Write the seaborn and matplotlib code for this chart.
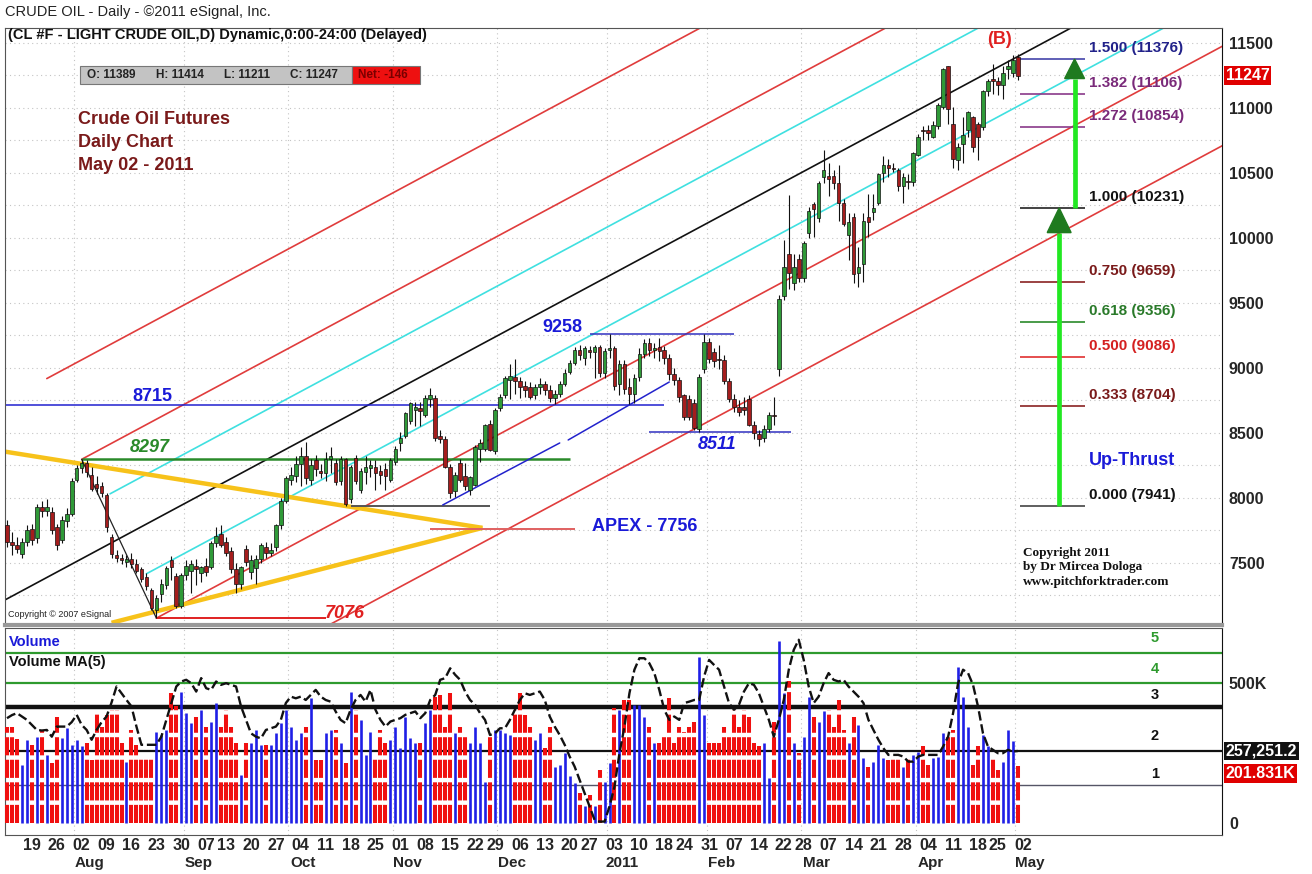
import numpy as np
import pandas as pd
import seaborn as sns
import matplotlib.pyplot as plt
import matplotlib.transforms as mtransforms
from matplotlib.patches import Rectangle

# ---- daily OHLC (CL #F, price x100) : Jul 13 2010 .. May 02 2011 ----
opens = [7790, 7660, 7640, 7570, 7660, 7760, 7690, 7930, 7900, 7890, 7780, 7680, 7820, 7880,
         8140, 8230, 8270, 8180, 8110, 8090, 8020, 7700, 7560, 7540, 7510, 7530, 7490, 7450, 7390, 7290, 7140, 7260, 7330, 7520, 7400, 7170,
         7410, 7440, 7480, 7420, 7480, 7470, 7650, 7720, 7660, 7590, 7450, 7340, 7610, 7430, 7460, 7530, 7620, 7580, 7620, 7790, 7980,
         8140, 8170, 8260, 8320, 8140, 8290, 8210, 8190, 8300, 8270, 8130, 8300, 7990, 8310, 8060, 8200, 8230, 8240, 8210, 8220, 8140,
         8280, 8420, 8480, 8590, 8680, 8690, 8640, 8760, 8770, 8480, 8450, 8240, 8050, 8270, 8170, 8060, 8100, 8380, 8380, 8570, 8360,
         8690, 8790, 8910, 8930, 8900, 8860, 8850, 8790, 8850, 8880, 8830, 8770, 8800, 8880, 8970, 9040, 9140, 9080, 9140, 9120, 9160, 8960,
         9140, 9150, 8880, 9030, 8850, 8800, 8930, 9110, 9190, 9140, 9160, 9140, 9080, 8950, 8910, 8790, 8760, 8730, 8530, 8990,
         9200, 9120, 9070, 9060, 8900, 8760, 8700, 8700, 8760, 8560, 8490, 8460, 8530, 8640, 8990, 9550, 9880, 9650, 9840,
         9690, 10040, 10260, 10150, 10470, 10480, 10480, 10420, 10270, 10020, 10160, 9730, 9800, 10160, 10200, 10270, 10500, 10560, 10540, 10520, 10400, 10440, 10430,
         10640, 10830, 10830, 10780, 10860, 11010, 11320, 10880, 10600, 10720, 10830, 10930, 10880, 10850, 11130, 11220, 11210, 11180, 11300, 11270,
         11389]
highs = [7830, 7740, 7700, 7690, 7790, 7800, 7950, 7980, 7990, 7930, 7800, 7860, 7920, 8150,
         8250, 8297, 8290, 8240, 8170, 8120, 8040, 7720, 7600, 7570, 7560, 7580, 7530, 7470, 7420, 7310, 7250, 7380, 7480, 7550, 7420, 7420,
         7520, 7520, 7530, 7480, 7540, 7670, 7780, 7790, 7700, 7620, 7500, 7480, 7640, 7560, 7560, 7650, 7660, 7650, 7800, 8000, 8170,
         8240, 8320, 8395, 8434, 8300, 8330, 8260, 8350, 8395, 8300, 8320, 8310, 8250, 8330, 8230, 8320, 8290, 8290, 8250, 8270, 8310,
         8400, 8510, 8660, 8740, 8740, 8740, 8790, 8844, 8790, 8520, 8480, 8260, 8200, 8300, 8270, 8170, 8410, 8450, 8570, 8600, 8690,
         8800, 8940, 9030, 9070, 8930, 8900, 8890, 8880, 8920, 8900, 8870, 8830, 8900, 8990, 9060, 9160, 9180, 9170, 9170, 9180, 9180, 9150,
         9258, 9170, 9060, 9060, 8920, 8950, 9150, 9220, 9230, 9190, 9230, 9170, 9110, 9000, 8930, 8800, 8790, 8760, 8950, 9258,
         9230, 9150, 9180, 9100, 8920, 8800, 8750, 8780, 8790, 8590, 8520, 8560, 8660, 8780, 9560, 9985, 10331, 9880, 9880,
         9980, 10240, 10280, 10440, 10677, 10580, 10520, 10560, 10300, 10190, 10190, 9930, 10190, 10340, 10340, 10500, 10630, 10610, 10580, 10540, 10500, 10490, 10660,
         10800, 10860, 10870, 10900, 11040, 11310, 11323, 11010, 10730, 10930, 10980, 10940, 10890, 11140, 11220, 11340, 11240, 11320, 11370, 11410,
         11414]
lows = [7620, 7560, 7580, 7540, 7630, 7640, 7650, 7850, 7860, 7720, 7600, 7650, 7780, 7860,
        8120, 8190, 8160, 8050, 8030, 8010, 7740, 7540, 7510, 7490, 7470, 7460, 7420, 7350, 7290, 7140, 7076, 7200, 7300, 7370, 7150, 7150,
        7370, 7270, 7330, 7350, 7400, 7450, 7620, 7620, 7550, 7420, 7270, 7300, 7480, 7380, 7340, 7500, 7540, 7550, 7590, 7760, 7960,
        8100, 8120, 8090, 8110, 8100, 8170, 8150, 8130, 8190, 8100, 8100, 7941, 7960, 8110, 8040, 8110, 8160, 8060, 8110, 8060, 8120,
        8250, 8360, 8460, 8570, 8550, 8550, 8620, 8700, 8440, 8420, 8230, 7998, 8010, 8120, 8060, 8024, 8090, 8280, 8360, 8360, 8340,
        8670, 8770, 8760, 8800, 8770, 8780, 8760, 8760, 8800, 8790, 8740, 8720, 8780, 8860, 8950, 9020, 9060, 9020, 9080, 8920, 8930, 8920,
        9080, 8830, 8790, 8800, 8720, 8730, 8900, 9080, 9090, 9080, 9050, 9030, 8910, 8870, 8740, 8600, 8600, 8520, 8511, 8960,
        9040, 9010, 8990, 8880, 8740, 8660, 8630, 8640, 8550, 8450, 8400, 8430, 8510, 8560, 8940, 9520, 9610, 9600, 9660,
        9660, 10000, 10010, 10120, 10420, 10320, 10380, 10130, 10090, 9830, 9650, 9620, 9660, 10010, 10140, 10250, 10430, 10470, 10510, 10360, 10270, 10380, 10400,
        10630, 10750, 10750, 10770, 10840, 10990, 10880, 10536, 10520, 10580, 10780, 10660, 10600, 10830, 11090, 11110, 11100, 11070, 11220, 11240,
        11211]
closes = [7660, 7640, 7610, 7660, 7750, 7680, 7930, 7900, 7930, 7750, 7640, 7830, 7880, 8130,
          8230, 8270, 8200, 8070, 8080, 8040, 7780, 7570, 7540, 7520, 7530, 7490, 7440, 7380, 7320, 7150, 7230, 7340, 7460, 7470, 7170, 7410,
          7480, 7490, 7450, 7470, 7430, 7650, 7710, 7640, 7580, 7450, 7340, 7470, 7510, 7520, 7530, 7640, 7580, 7600, 7790, 7980, 8150,
          8180, 8260, 8320, 8150, 8250, 8220, 8190, 8300, 8320, 8120, 8300, 7950, 8240, 8130, 8210, 8240, 8250, 8190, 8180, 8170, 8290,
          8380, 8460, 8650, 8730, 8700, 8670, 8770, 8790, 8460, 8450, 8240, 8040, 8180, 8140, 8090, 8160, 8390, 8420, 8560, 8370, 8680,
          8780, 8920, 8940, 8900, 8850, 8830, 8780, 8850, 8880, 8830, 8770, 8800, 8880, 8960, 9040, 9140, 9100, 9150, 9120, 9160, 8960, 9130,
          9150, 8860, 9030, 8840, 8800, 8920, 9110, 9190, 9140, 9150, 9130, 9080, 8950, 8910, 8780, 8620, 8620, 8540, 8930, 9200,
          9070, 9050, 9060, 8900, 8760, 8700, 8660, 8680, 8560, 8500, 8450, 8530, 8640, 8630, 9530, 9780, 9730, 9780, 9690,
          9960, 10210, 10220, 10420, 10520, 10450, 10420, 10270, 10110, 10120, 9720, 9780, 10130, 10120, 10230, 10490, 10560, 10540, 10530, 10400, 10470, 10430, 10650,
          10780, 10820, 10810, 10870, 11020, 11300, 10990, 10610, 10700, 10790, 10970, 10700, 10780, 11130, 11210, 11210, 11180, 11270, 11320, 11370,
          11247]

# ---- volume (thousands) and Volume MA(5) as drawn ----
volume = [344, 344, 300, 207, 297, 279, 308, 332, 243, 213, 380, 302, 338, 279,
          297, 273, 285, 225, 392, 344, 386, 404, 404, 285, 219, 332, 279, 231, 231, 231, 326, 314, 332, 463, 416, 469,
          392, 356, 380, 404, 344, 362, 428, 344, 404, 344, 285, 172, 285, 285, 332, 279, 279, 279, 320, 356, 404,
          344, 297, 320, 344, 445, 225, 225, 320, 332, 332, 285, 213, 469, 404, 368, 243, 326, 231, 332, 285, 297,
          344, 267, 380, 302, 285, 285, 356, 404, 451, 457, 344, 463, 320, 344, 320, 285, 344, 285, 148, 314, 332,
          332, 320, 314, 404, 463, 386, 344, 297, 320, 267, 344, 201, 207, 249, 166, 142, 106, 59, 100, 59, 190, 148,
          213, 410, 404, 439, 439, 422, 422, 380, 344, 285, 285, 320, 445, 285, 344, 326, 344, 362, 594, 386,
          285, 285, 285, 344, 314, 404, 344, 404, 380, 285, 273, 285, 160, 362, 648, 463, 505, 285, 249,
          308, 451, 380, 362, 398, 404, 344, 439, 332, 285, 380, 350, 231, 201, 219, 279, 231, 225, 231, 231, 201, 231, 243,
          255, 273, 207, 231, 237, 320, 314, 332, 558, 451, 344, 207, 273, 314, 273, 231, 190, 219, 332, 291,
          202]
volume_ma = [374, 385, 392, 380, 368, 350, 332, 330, 332, 308, 344, 344, 344, 360,
             386, 350, 332, 297, 332, 360, 380, 430, 487, 463, 439, 416, 344, 279, 279, 279, 279, 308, 368, 428, 487, 505,
             511, 499, 469, 517, 481, 475, 505, 493, 499, 493, 487, 416, 368, 320, 308, 302, 332, 338, 344, 368, 428,
             451, 445, 451, 439, 457, 475, 451, 439, 433, 398, 368, 356, 404, 439, 457, 433, 475, 404, 368, 344, 362,
             368, 374, 386, 392, 398, 374, 392, 439, 457, 511, 517, 552, 529, 511, 469, 439, 422, 392, 368, 314, 320,
             338, 338, 368, 404, 439, 463, 457, 463, 469, 439, 380, 344, 314, 279, 237, 201, 154, 106, 59, 11, 5, 5,
             59, 130, 249, 344, 463, 547, 588, 588, 570, 535, 475, 404, 368, 380, 368, 428, 433, 439, 439, 523,
             582, 564, 547, 487, 428, 404, 422, 469, 499, 493, 463, 416, 368, 308, 368, 439, 547, 618, 654,
             582, 487, 428, 451, 499, 535, 511, 505, 511, 487, 469, 451, 428, 368, 332, 297, 267, 243, 243, 243, 237, 219, 219,
             237, 243, 243, 243, 243, 273, 308, 392, 499, 547, 535, 493, 416, 320, 273, 261, 249, 249, 261, 255,
             257]

# ---- analysis levels ----
fib_ratios = ['1.500', '1.382', '1.272', '1.000', '0.750', '0.618', '0.500', '0.333', '0.000']
fib_prices = [11376, 11106, 10854, 10231, 9659, 9356, 9086, 8704, 7941]
fib_colors = ['#22228a', '#7a2a7a', '#7a2a7a', '#111111', '#7a1a1a', '#2a7a2a', '#d42020', '#7a1a1a', '#111111']
fib_lines = ['#4444aa', '#8a3a8a', '#8a3a8a', '#222222', '#8a2222', '#2a8a2a', '#e03030', '#8a2222', '#444444']
vol_levels = [607, 500, 414, 257, 136]
vol_level_names = ['5', '4', '3', '2', '1']

holidays = pd.to_datetime(['2010-09-06', '2010-11-25', '2010-12-24',
                           '2011-01-17', '2011-02-21', '2011-04-22'])
dates = pd.bdate_range('2010-07-13', '2011-05-02').drop(holidays)

o, h, l, c = map(np.array, (opens, highs, lows, closes))
n = len(c)
x = np.arange(n)

sns.set_style('white')
plt.rcParams['font.family'] = ['Liberation Sans', 'DejaVu Sans']

fig = plt.figure(figsize=(13.12, 8.74), dpi=100)
ax = fig.add_axes([0.0038, 0.2849, 0.9276, 0.6831])
ax2 = fig.add_axes([0.0038, 0.0446, 0.9276, 0.2369])
XMAX = 244
for a in (ax, ax2):
    a.set_xlim(-0.4, XMAX)

# grid
for p in range(7250, 11750, 250):
    ax.axhline(p, color='#c4c4c4', lw=0.8, ls=(0, (1, 3)), zorder=0)
ds = pd.Series(dates)
month_first = ds.groupby([ds.dt.year, ds.dt.month]).head(1).index.to_numpy()
for m in month_first[1:]:
    for a in (ax, ax2):
        a.axvline(m - 0.5, color='#c4c4c4', lw=0.8, ls=(0, (1, 3)), zorder=0)

# pitchfork (median through midpoint of 8297 / 7076 pivots)
slope, base, half = 20.55, 7224, 765
forks = [(2, '#e03c3c', 8), (1, '#e03c3c', 15), (0.5, '#3fe0e0', 20.7), (0, '#111111', -1),
         (-0.5, '#3fe0e0', 28), (-1, '#e03c3c', 30), (-2, '#e03c3c', 60)]
for k, col, x0 in forks:
    xs = np.array([x0, 260])
    ax.plot(xs, base + slope * xs + k * half, color=col, lw=1.2, zorder=2)

# triangle / apex, swing lines and levels
ax.plot([-1, 95.5], [8360, 7770], color='#f7c21a', lw=3.2, zorder=2, solid_capstyle='butt')
ax.plot([21, 95.5], [7040, 7770], color='#f7c21a', lw=3.2, zorder=2, solid_capstyle='butt')
ax.plot([15, 30], [8297, 7076], color='#222222', lw=0.9, zorder=2)
ax.hlines(8715, -1, 132, color='#2020d0', lw=1.1, zorder=2)
ax.hlines(8297, 15, 113, color='#2a8a2a', lw=1.8, zorder=2)
ax.hlines(7076, 30, 64, color='#e02020', lw=1.4, zorder=2)
ax.hlines(7941, 69, 97, color='#555555', lw=1.4, zorder=2)
ax.hlines(9258, 117, 146, color='#3030c0', lw=1.1, zorder=2)
ax.hlines(8511, 129, 157.5, color='#3030c0', lw=1.1, zorder=2)
ax.hlines(7765, 85, 114, color='#e06060', lw=1.4, zorder=2)
ax.plot([87.5, 111], [7946, 8423], color='#2222cc', lw=1.1, zorder=2)
ax.plot([112.7, 133], [8446, 8892], color='#2222cc', lw=1.1, zorder=2)

# candles
up = c >= o
ax.vlines(x, l, h, color='#111111', lw=0.8, zorder=3)
ax.bar(x, np.maximum(np.abs(c - o), 10), bottom=np.minimum(o, c), width=0.72,
       color=np.where(up, '#2f9a38', '#a51d1d'), edgecolor='#111111', linewidth=0.5, zorder=4)

# fib up-thrust projection
for r, p, tc, lc in zip(fib_ratios, fib_prices, fib_colors, fib_lines):
    ax.hlines(p, 203.5, 216.5, color=lc, lw=1.2, zorder=2)
    ax.text(217.3, p + 85, f'{r} ({p})', color=tc, fontsize=11, fontweight='bold',
            va='center', ha='left')
for ax_x, p0, p1, hw, hl in [(211.3, 7941, 10231, 2.4, 190), (214.4, 10231, 11376, 2.0, 150)]:
    ax.plot([ax_x, ax_x], [p0, p1 - hl], color='#22e822', lw=3.4, zorder=5, solid_capstyle='butt')
    ax.fill([ax_x - hw, ax_x, ax_x + hw], [p1 - hl, p1, p1 - hl], color='#1f7a1f', zorder=6)

# labels on price panel
ax.text(29.1, 8777, '8715', color='#1a1ad8', fontsize=13, fontweight='bold', ha='center', va='center')
ax.text(28.7, 8392, '8297', color='#2a8a2a', fontsize=13, fontweight='bold', style='italic', ha='center', va='center')
ax.text(67.9, 7108, '7076', color='#e02020', fontsize=13, fontweight='bold', style='italic', ha='center', va='center')
ax.text(111.6, 9315, '9258', color='#1a1ad8', fontsize=13, fontweight='bold', ha='center', va='center')
ax.text(142.6, 8408, '8511', color='#1a1ad8', fontsize=13, fontweight='bold', style='italic', ha='center', va='center')
ax.text(128.1, 7777, 'APEX - 7756', color='#1a1ad8', fontsize=13, fontweight='bold', ha='center', va='center')
ax.text(225.9, 8292, 'Up-Thrust', color='#1a1ad8', fontsize=13, fontweight='bold', ha='center', va='center')
ax.text(199.4, 11523, '(B)', color='#e02020', fontsize=13, fontweight='bold', ha='center', va='center')
ax.text(14.2, 10975, 'Crude Oil Futures\nDaily Chart\nMay 02 - 2011', color='#7a1a1a', fontsize=13,
        fontweight='bold', ha='left', va='top', linespacing=1.45)
ax.text(204, 7625, 'Copyright 2011\nby Dr Mircea Dologa\nwww.pitchforktrader.com', family='Liberation Serif',
        fontsize=9.5, fontweight='bold', color='#111111', ha='left', va='top', linespacing=1.3)
ax.text(0.2, 7100, 'Copyright \u00a9 2007 eSignal', fontsize=6.5, color='#222222', ha='left', va='center')

# price axis on the right
ax.set_ylim(7023, 11615)
ax.yaxis.tick_right()
ax.set_yticks(range(7500, 12000, 500))
ax.tick_params(axis='y', length=0, pad=5, labelsize=11.5)
for t in ax.get_yticklabels():
    t.set_fontweight('bold')
ax.set_xticks([])
for s in ('left', 'top'):
    ax.spines[s].set_color('#555555')
ax.spines['bottom'].set_color('#999999')
ax.spines['bottom'].set_linewidth(3)
ax.spines['right'].set_color('#111111')
bt = mtransforms.blended_transform_factory(ax.transAxes, ax.transData)
ax.text(1.003, 11247, '11247', transform=bt, color='white', fontsize=11.5, fontweight='bold', va='center',
        ha='left', bbox=dict(boxstyle='square,pad=0.12', fc='#e00000', ec='none'))

# ---- volume panel ----
vol = np.array(volume)
ax2.vlines(x[up], 0, vol[up], color='#1f1fe6', lw=1.9, zorder=3)
ax2.vlines(x[~up], 0, vol[~up], color='#f01010', lw=2.9, linestyles=(0, (4.5, 1.1)), zorder=3)
sns.lineplot(x=x, y=np.array(volume_ma), ax=ax2, color='#111111', lw=1.7, linestyle=(0, (4, 1.6)), zorder=4)
for v, col, lw in zip(vol_levels, ['#2e9a2e', '#2e9a2e', '#111111', '#111111', '#555566'], [1.6, 1.6, 3.2, 1.6, 1.0]):
    ax2.axhline(v, color=col, lw=lw, zorder=2)
for v, name, col in zip([661, 550, 457, 311, 175], vol_level_names,
                        ['#2e9a2e', '#2e9a2e', '#111111', '#111111', '#111111']):
    ax2.text(230.5, v, name, color=col, fontsize=10.5, fontweight='bold', ha='center', va='center')
ax2.set_ylim(-43, 696)
ax2.set_ylabel('')
ax2.yaxis.tick_right()
ax2.set_yticks([0, 500])
ax2.set_yticklabels(['0', '500K'])
ax2.tick_params(axis='y', length=0, pad=5, labelsize=11.5)
for t in ax2.get_yticklabels():
    t.set_fontweight('bold')
bt2 = mtransforms.blended_transform_factory(ax2.transAxes, ax2.transData)
ax2.text(1.003, 257, '257,251.2', transform=bt2, color='white', fontsize=11.5, fontweight='bold', va='center',
         ha='left', bbox=dict(boxstyle='square,pad=0.12', fc='#111111', ec='none'))
ax2.text(1.003, 178, '201.831K', transform=bt2, color='white', fontsize=11.5, fontweight='bold', va='center',
         ha='left', bbox=dict(boxstyle='square,pad=0.12', fc='#e00000', ec='none'))
ax2.text(0.003, 0.93, 'Volume', transform=ax2.transAxes, color='#1a1ad8', fontsize=10.5, fontweight='bold', va='center')
ax2.text(0.003, 0.835, 'Volume MA(5)', transform=ax2.transAxes, color='#111111', fontsize=10.5, fontweight='bold',
         va='center')
for s in ('left', 'top', 'bottom'):
    ax2.spines[s].set_color('#555555')
ax2.spines['right'].set_color('#111111')

# date axis
week_first = ds.groupby(ds.dt.to_period('W')).head(1).index.to_numpy()[1:]
ax2.set_xticks(week_first + 1)
ax2.set_xticklabels([dates[i].strftime('%d') for i in week_first], fontsize=11.5, fontweight='bold')
ax2.tick_params(axis='x', length=0, pad=2)
ax2.set_xlabel('')
month_names = ['Aug', 'Sep', 'Oct', 'Nov', 'Dec', '2011', 'Feb', 'Mar', 'Apr', 'May']
bx = mtransforms.blended_transform_factory(ax2.transData, ax2.transAxes)
for m, name in zip(month_first[1:], month_names):
    ax2.text(m + 2.5, -0.135, name, transform=bx, fontsize=11, fontweight='bold', ha='center', va='center')

# header
fig.text(0.004, 0.986, 'CRUDE OIL - Daily - \u00a92011 eSignal, Inc.', fontsize=10.5, color='#222222', va='center')
fig.text(0.006, 0.960, '(CL #F - LIGHT CRUDE OIL,D) Dynamic,0:00-24:00 (Delayed)', fontsize=10.5,
         fontweight='bold', color='#111111', va='center')
fig.patches.append(Rectangle((0.061, 0.9039), 0.2073, 0.0206, transform=fig.transFigure, fc='#c3c3c3',
                             ec='#777777', lw=0.8))
fig.patches.append(Rectangle((0.2683, 0.9039), 0.0518, 0.0206, transform=fig.transFigure, fc='#ee1010',
                             ec='#777777', lw=0.8))
for xt, s in [(0.066, 'O: 11389'), (0.119, 'H: 11414'), (0.171, 'L: 11211'), (0.221, 'C: 11247')]:
    fig.text(xt, 0.9142, s, fontsize=8.5, fontweight='bold', color='#222222', va='center')
fig.text(0.273, 0.9142, 'Net: -146', fontsize=8.5, fontweight='bold', color='#7a0000', va='center')

fig.savefig('out.png', dpi=100)
